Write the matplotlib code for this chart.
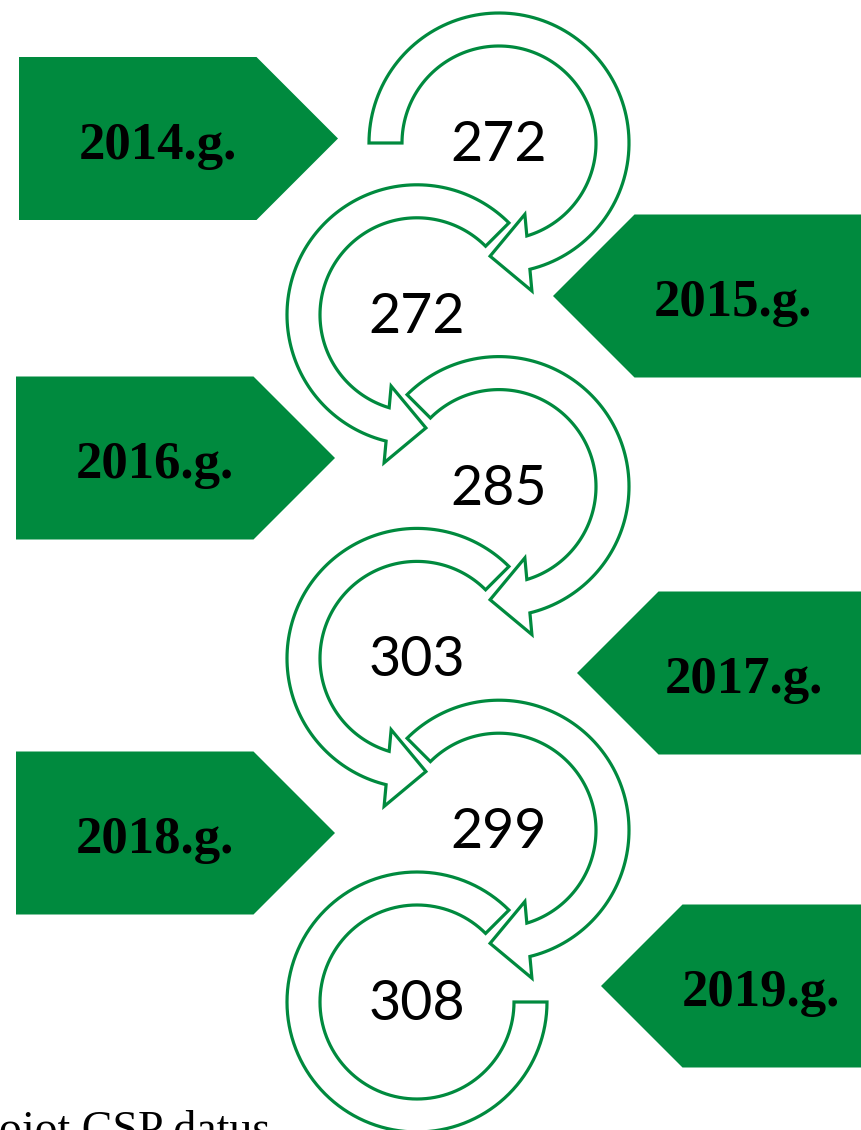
import numpy as np
import matplotlib
matplotlib.use("Agg")
import matplotlib.pyplot as plt
from matplotlib.patches import Polygon

# ---- data ----
years = ['2014.g.', '2015.g.', '2016.g.', '2017.g.', '2018.g.', '2019.g.']
values = [272, 272, 285, 303, 299, 308]
source_text = 'izmantojot CSP datus'

# ---- layout (pixels) ----
W, H = 861, 1130
GREEN = '#008A3E'
circle_x = [499, 417, 499, 417, 499, 417]
circle_y0, circle_dy = 143, 171.8
start_angle = [180, 225, 225, 225, 225, 225]   # in "clockwise" local space
R_IN, R_OUT = 97, 130
R_MID = (R_IN + R_OUT) / 2
BASE_ANG, TIP_ANG, HEAD_W = 435, 454.5, 38.5

# pentagon layout: (rect_left, rect_right, tip_x, tip_y) for left ones; right ones mirrored
pent_tip_x = [338, 553, 335, 577, 335, 601]
pent_tip_y = [138.5, 296, 458, 673, 833, 986]
pent_far_x = [19, 870, 16, 870, 16, 870]
pent_half = 81.5
label_x = [158, 733, 155, 744, 155, 761]

fig = plt.figure(figsize=(W / 100, H / 100), dpi=100)
ax = fig.add_axes([0, 0, 1, 1])
ax.set_xlim(0, W)
ax.set_ylim(H, 0)
ax.axis('off')

# pentagons
for i, yr in enumerate(years):
    tx, ty, fx = pent_tip_x[i], pent_tip_y[i], pent_far_x[i]
    sgn = 1 if i % 2 == 0 else -1
    nx = tx - sgn * pent_half
    pts = [(fx, ty - pent_half), (nx, ty - pent_half), (tx, ty),
           (nx, ty + pent_half), (fx, ty + pent_half)]
    ax.add_patch(Polygon(pts, closed=True, facecolor=GREEN, edgecolor='none', zorder=1))
    ax.text(label_x[i], ty + 20, yr, ha='center', va='baseline',
            fontsize=38, fontweight='bold', family='Liberation Serif', color='black', zorder=5)


def pol(r, a):
    a = np.deg2rad(a)
    return np.array([r * np.cos(a), r * np.sin(a)])


def arc(r, a0, a1, n=120):
    a = np.deg2rad(np.linspace(a0, a1, n))
    return np.column_stack([r * np.cos(a), r * np.sin(a)])


def unwrap(deg, ref):
    return ref + ((deg - ref + 180) % 360 - 180)


def ring_arrow(cx, cy, s, th0, head=True, th_end=540):
    if head:
        B = pol(R_MID, BASE_ANG)
        T = pol(R_MID, TIP_ANG)
        d = (T - B) / np.linalg.norm(T - B)
        n = np.array([-d[1], d[0]])
        if n @ B < 0:
            n = -n

        def inter(r):
            a = B @ n
            disc = a * a - B @ B + r * r
            roots = [-a + np.sqrt(disc), -a - np.sqrt(disc)]
            t = min(roots, key=abs)
            return B + t * n

        Po, Pi = inter(R_OUT), inter(R_IN)
        ao = unwrap(np.degrees(np.arctan2(Po[1], Po[0])), BASE_ANG)
        ai = unwrap(np.degrees(np.arctan2(Pi[1], Pi[0])), BASE_ANG)
        pts = np.vstack([arc(R_OUT, th0, ao), [B + HEAD_W * n], [T],
                         [B - HEAD_W * n], arc(R_IN, ai, th0)])
    else:
        pts = np.vstack([arc(R_OUT, th0, th_end), arc(R_IN, th_end, th0)])
    pts[:, 0] = cx + s * pts[:, 0]
    pts[:, 1] = cy + pts[:, 1]
    ax.add_patch(Polygon(pts, closed=True, facecolor='white', edgecolor=GREEN,
                         linewidth=2.3, joinstyle='miter', zorder=2))


for i, v in enumerate(values):
    cx = circle_x[i]
    cy = circle_y0 + i * circle_dy
    s = 1 if i % 2 == 0 else -1
    last = (i == len(values) - 1)
    ring_arrow(cx, cy, s, start_angle[i], head=not last)
    ax.text(cx, cy + 18, str(v), ha='center', va='baseline', fontsize=40,
            family='Lato', color='black', zorder=5)

ax.text(270, 1143, source_text, ha='right', va='baseline', fontsize=33,
        family='Liberation Serif', color='black', zorder=5)

fig.savefig('out.png', dpi=100)
